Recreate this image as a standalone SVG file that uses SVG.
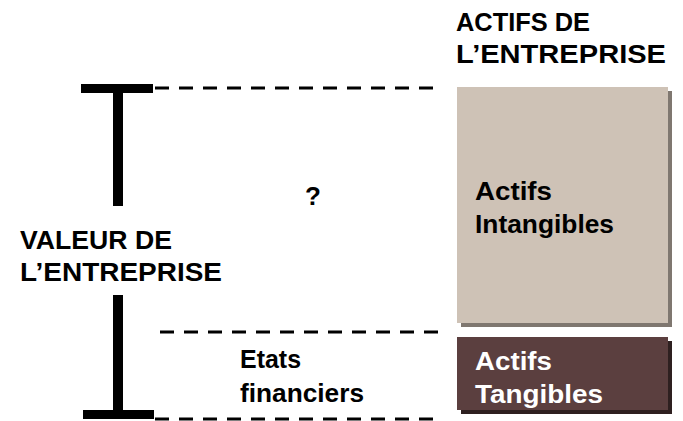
<svg xmlns="http://www.w3.org/2000/svg" width="683" height="421" viewBox="0 0 683 421">
<style>
text{font-family:"Liberation Sans",Arial,sans-serif;font-weight:bold;font-size:26px;fill:#000}
.w{fill:#fff}
.dash{stroke:#000;stroke-width:3;stroke-dasharray:14 10;fill:none}
.bar{fill:#000}
</style>
<rect width="683" height="421" fill="#fff"/>
<g id="header">
<text x="456" y="31" textLength="134" lengthAdjust="spacingAndGlyphs">ACTIFS DE</text>
<text x="456" y="63" textLength="210" lengthAdjust="spacingAndGlyphs">L’ENTREPRISE</text>
</g>
<g id="connectors">
<line class="dash" x1="155" y1="88" x2="440" y2="88"/>
<line class="dash" x1="160" y1="332" x2="440" y2="332"/>
<line class="dash" x1="155" y1="419" x2="440" y2="419"/>
</g>
<g id="valeur">
<rect class="bar" x="81" y="84" width="72" height="9"/>
<rect class="bar" x="113" y="92" width="10" height="114"/>
<rect class="bar" x="113" y="295" width="10" height="116"/>
<rect class="bar" x="83" y="410" width="71" height="9"/>
<text x="20" y="249" textLength="152" lengthAdjust="spacingAndGlyphs">VALEUR DE</text>
<text x="20" y="281" textLength="202" lengthAdjust="spacingAndGlyphs">L’ENTREPRISE</text>
</g>
<g id="question">
<text x="305" y="205">?</text>
</g>
<g id="intangibles">
<rect x="461" y="91" width="211" height="236" fill="#7f7770"/>
<rect x="457" y="87" width="211" height="236" fill="#cec2b6"/>
<text x="475" y="200" textLength="77" lengthAdjust="spacingAndGlyphs">Actifs</text>
<text x="475" y="233" textLength="139" lengthAdjust="spacingAndGlyphs">Intangibles</text>
</g>
<g id="etats">
<text x="240" y="368" textLength="61" lengthAdjust="spacingAndGlyphs">Etats</text>
<text x="240" y="402" textLength="124" lengthAdjust="spacingAndGlyphs">financiers</text>
</g>
<g id="tangibles">
<rect x="461" y="341" width="211" height="73" fill="#2e2020"/>
<rect x="457" y="337" width="211" height="73" fill="#5b3f3f"/>
<text class="w" x="475" y="370" textLength="77" lengthAdjust="spacingAndGlyphs">Actifs</text>
<text class="w" x="475" y="403" textLength="128" lengthAdjust="spacingAndGlyphs">Tangibles</text>
</g>
</svg>
